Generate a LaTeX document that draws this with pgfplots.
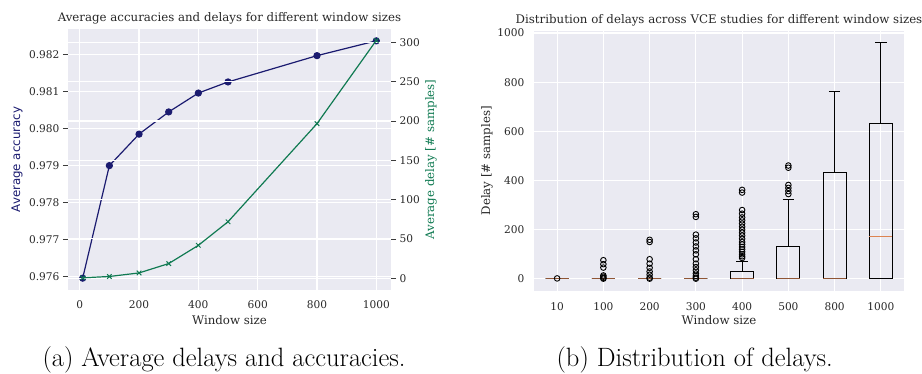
\documentclass[border=0pt]{standalone}
\usepackage{pgfplots}
\pgfplotsset{compat=1.18}
\usepgfplotslibrary{statistics}
\usepackage{fontspec}
\newfontfamily\dvserif{DejaVu Serif}
\newfontfamily\dvsans{DejaVu Sans}
\definecolor{bggray}{HTML}{EAEAF2}
\definecolor{accnavy}{RGB}{27,27,112}
\definecolor{delgreen}{RGB}{16,122,82}
\definecolor{medorange}{HTML}{DD8452}
\definecolor{tickgray}{RGB}{60,60,60}
\definecolor{txtgray}{RGB}{40,40,40}
\tikzset{lbl/.style={font=\dvserif\fontsize{11.8}{14}\selectfont, text=txtgray}}
\begin{document}
\begin{tikzpicture}
\path[use as bounding box] (0,0) rectangle (922pt,373pt);
\pgfplotsset{
  base/.style={
    scale only axis,
    axis line style={draw=none},
    grid=major,
    grid style={white, line width=1.1pt},
    tick align=outside,
    major tick length=5pt,
    /pgf/number format/assume math mode=true,
    /pgf/number format/1000 sep={},
    tick label style={font=\dvserif\fontsize{10.6}{13}\selectfont, text=txtgray},
    xticklabel style={anchor=center, yshift=-10pt},
  },
}
% ---------- left: accuracy ----------
\begin{axis}[base,
  at={(68pt,83pt)}, anchor=south west,
  width=323pt, height=261pt,
  axis background/.style={fill=bggray},
  xmin=-39.5, xmax=1049.5,
  ymin=0.97563, ymax=0.98268,
  xtick={0,200,400,600,800,1000},
  ytick={0.976,0.977,0.978,0.979,0.980,0.981,0.982},
  scaled y ticks=false,
  yticklabel style={/pgf/number format/fixed, /pgf/number format/precision=3, /pgf/number format/fixed zerofill},
  ytick pos=left,
  xtick style={draw=none},
  ytick style={draw=tickgray, line width=0.8pt},
  title={Average accuracies and delays for different window sizes},
  every axis title/.style={lbl, at={(axis description cs:0.5,1)}, anchor=center, yshift=11pt},
  xlabel={Window size},
  every axis x label/.style={lbl, at={(axis description cs:0.5,0)}, anchor=center, yshift=-30pt},
  ylabel={Average accuracy},
  every axis y label/.style={lbl, font=\dvsans\fontsize{11.8}{14}\selectfont, at={(axis description cs:-0.158,0.5)}, anchor=center, rotate=90, text=accnavy},
]
\addplot[accnavy, line width=1.2pt, mark=*, mark size=3pt, mark options={fill=accnavy, draw=accnavy}]
 coordinates {(10,0.97595) (100,0.97899) (200,0.97984) (300,0.98044) (400,0.98095) (500,0.98125) (800,0.98196) (1000,0.98236)};
\end{axis}
% ---------- left: delay (twin) ----------
\begin{axis}[base,
  at={(68pt,83pt)}, anchor=south west,
  width=323pt, height=261pt,
  xmin=-39.5, xmax=1049.5,
  ymin=-15, ymax=317,
  xtick=\empty,
  xmajorgrids=false,
  ytick={0,50,100,150,200,250,300},
  ytick pos=right, yticklabel pos=right,
  ytick style={draw=tickgray, line width=0.8pt},
  ylabel={Average delay [\# samples]},
  every axis y label/.style={lbl, at={(axis description cs:1.124,0.5)}, anchor=center, rotate=90, text=delgreen},
]
\addplot[delgreen, line width=1.2pt, mark=x, mark size=3.2pt, mark options={draw=delgreen, line width=1pt}]
 coordinates {(10,0.5) (100,2.2) (200,6.7) (300,18.6) (400,41.8) (500,71.8) (800,196.6) (1000,302.5)};
\end{axis}
% ---------- right: boxplots ----------
\begin{axis}[base,
  at={(534pt,82.3pt)}, anchor=south west,
  width=370pt, height=259.7pt,
  axis background/.style={fill=bggray},
  xmin=0.5, xmax=8.5,
  ymin=-48, ymax=1008,
  xtick={1,2,3,4,5,6,7,8},
  xticklabels={10,100,200,300,400,500,800,1000},
  ytick={0,200,400,600,800,1000},
  tick style={draw=none},
  major tick length=6pt,
  title={Distribution of delays across VCE studies for different window sizes},
  every axis title/.style={lbl, at={(axis description cs:0.5,1)}, anchor=center, yshift=11pt},
  xlabel={Window size},
  every axis x label/.style={lbl, at={(axis description cs:0.5,0)}, anchor=center, yshift=-29pt},
  ylabel={Delay [\# samples]},
  every axis y label/.style={lbl, at={(axis description cs:-0.127,0.5)}, anchor=center, rotate=90},
  boxplot/draw direction=y,
  boxplot/box extend=0.5,
  boxplot/whisker extend=0.25,
  boxplot/every box/.style={draw=black, line width=0.9pt, fill=none},
  boxplot/every whisker/.style={draw=black, line width=0.9pt},
  boxplot/every median/.style={draw=medorange!65!black, line width=1pt},
  bx/.style={mark=o, mark size=2.8pt, mark options={draw=black, line width=0.9pt, fill=none}, draw=black},
]
\addplot[bx, boxplot prepared={draw position=1, lower whisker=0, lower quartile=0, median=0, upper quartile=0, upper whisker=0}]
 table[row sep=\\, y index=0] {data\\ 2\\};
\addplot[bx, boxplot prepared={draw position=2, lower whisker=0, lower quartile=0, median=0, upper quartile=0, upper whisker=0}]
 table[row sep=\\, y index=0] {data\\ 76\\ 60\\ 46\\ 14\\ 9\\ 4\\ 1\\};
\addplot[bx, boxplot prepared={draw position=3, lower whisker=0, lower quartile=0, median=0, upper quartile=0, upper whisker=0}]
 table[row sep=\\, y index=0] {data\\ 159\\ 150\\ 80\\ 62\\ 45\\ 30\\ 17\\ 5\\ 1\\};
\addplot[bx, boxplot prepared={draw position=4, lower whisker=0, lower quartile=0, median=0, upper quartile=0, upper whisker=0}]
 table[row sep=\\, y index=0] {data\\ 263\\ 252\\ 180\\ 165\\ 148\\ 132\\ 116\\ 100\\ 80\\ 62\\ 48\\ 35\\ 22\\ 12\\ 5\\ 1\\};
\addplot[bx, boxplot prepared={draw position=5, lower whisker=0, lower quartile=0, median=0, upper quartile=31, upper whisker=71}]
 table[row sep=\\, y index=0] {data\\ 362\\ 351\\ 280\\ 265\\ 250\\ 238\\ 225\\ 212\\ 200\\ 188\\ 176\\ 163\\ 150\\ 140\\ 130\\ 120\\ 110\\ 100\\ 92\\ 85\\};
\addplot[bx, boxplot prepared={draw position=6, lower whisker=0, lower quartile=0, median=0, upper quartile=132, upper whisker=324}]
 table[row sep=\\, y index=0] {data\\ 461\\ 452\\ 382\\ 370\\ 357\\ 345\\};
\addplot[bx, boxplot prepared={draw position=7, lower whisker=0, lower quartile=0, median=0, upper quartile=433, upper whisker=761}]
 coordinates {};
\addplot[bx, boxplot/every median/.style={draw=medorange, line width=1pt}, boxplot prepared={draw position=8, lower whisker=0, lower quartile=0, median=172, upper quartile=634, upper whisker=961}]
 coordinates {};
\end{axis}
% ---------- captions ----------
\node[font=\fontsize{26.5}{31}\selectfont, anchor=base, inner sep=0pt] at (224pt,7pt) {(a) Average delays and accuracies.};
\node[font=\fontsize{26.5}{31}\selectfont, anchor=base, inner sep=0pt] at (694.7pt,7pt) {(b) Distribution of delays.};
\end{tikzpicture}
\end{document}
